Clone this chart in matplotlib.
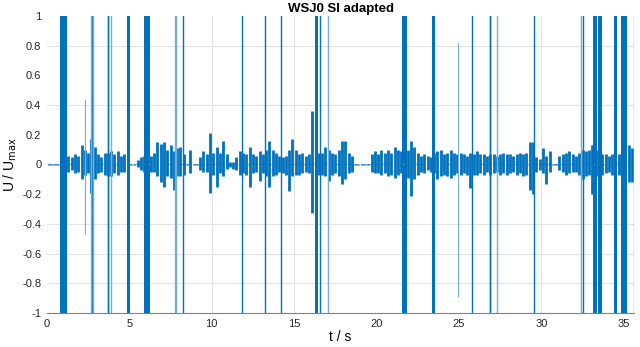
import numpy as np
import matplotlib.pyplot as plt

plt.rcParams['font.family'] = 'Liberation Sans'

env_hi = [0.004, 0.004, 0.004, 0.004, 0.05,
          0.05, 0.06, 0.05, 0.07, 0.06,
          0.13, 0.10, 0.08, 0.17, 0.12,
          0.07, 0.05, 0.08, 0.08, 0.09,
          0.07, 0.09, 0.06, 0.07, 0.07,
          0.004, 0.004, 0.03, 0.05, 0.06,
          0.15, 0.06, 0.08, 0.15, 0.14,
          0.15, 0.10, 0.13, 0.09, 0.11,
          0.12, 0.07, 0.004, 0.10, 0.004,
          0.004, 0.05, 0.09, 0.07, 0.21,
          0.08, 0.12, 0.08, 0.16, 0.07,
          0.02, 0.02, 0.05, 0.09, 0.08,
          0.07, 0.12, 0.07, 0.06, 0.09,
          0.07, 0.10, 0.16, 0.10, 0.08,
          0.06, 0.05, 0.06, 0.10, 0.17,
          0.10, 0.07, 0.08, 0.06, 0.07,
          0.36, 0.10, 0.08, 0.08, 0.12,
          0.10, 0.08, 0.07, 0.10, 0.16,
          0.16, 0.08, 0.06, 0.004, 0.004,
          0.004, 0.004, 0.004, 0.07, 0.09,
          0.07, 0.10, 0.08, 0.10, 0.08,
          0.12, 0.10, 0.09, 0.10, 0.10,
          0.16, 0.12, 0.08, 0.06, 0.07,
          0.06, 0.05, 0.08, 0.09, 0.10,
          0.07, 0.08, 0.10, 0.08, 0.07,
          0.08, 0.07, 0.06, 0.08, 0.07,
          0.09, 0.07, 0.07, 0.06, 0.07,
          0.07, 0.06, 0.07, 0.08, 0.07,
          0.07, 0.06, 0.07, 0.08, 0.07,
          0.08, 0.15, 0.15, 0.05, 0.04,
          0.11, 0.06, 0.09, 0.004, 0.004,
          0.06, 0.07, 0.08, 0.09, 0.07,
          0.06, 0.08, 0.10, 0.09, 0.10,
          0.13, 0.10, 0.08, 0.07, 0.07,
          0.06, 0.07, 0.08, 0.07, 0.09,
          0.09, 0.13, 0.11]
env_lo = [-0.004, -0.004, -0.004, -0.004, -0.04,
          -0.04, -0.05, -0.04, -0.06, -0.05,
          -0.10, -0.07, -0.06, -0.19, -0.10,
          -0.06, -0.05, -0.07, -0.08, -0.08,
          -0.06, -0.07, -0.05, -0.05, -0.06,
          -0.004, -0.004, -0.02, -0.04, -0.05,
          -0.06, -0.05, -0.05, -0.08, -0.12,
          -0.15, -0.08, -0.09, -0.17, -0.08,
          -0.08, -0.07, -0.004, -0.06, -0.004,
          -0.004, -0.04, -0.05, -0.05, -0.19,
          -0.07, -0.15, -0.06, -0.08, -0.03,
          -0.02, -0.03, -0.04, -0.07, -0.06,
          -0.07, -0.15, -0.06, -0.05, -0.11,
          -0.06, -0.08, -0.15, -0.08, -0.07,
          -0.05, -0.06, -0.07, -0.18, -0.08,
          -0.07, -0.07, -0.06, -0.05, -0.06,
          -0.33, -0.08, -0.07, -0.07, -0.08,
          -0.11, -0.07, -0.06, -0.08, -0.13,
          -0.10, -0.06, -0.05, -0.004, -0.004,
          -0.004, -0.004, -0.004, -0.05, -0.06,
          -0.06, -0.07, -0.06, -0.08, -0.07,
          -0.09, -0.07, -0.06, -0.08, -0.09,
          -0.21, -0.10, -0.07, -0.05, -0.06,
          -0.04, -0.05, -0.06, -0.10, -0.08,
          -0.07, -0.08, -0.09, -0.07, -0.06,
          -0.07, -0.06, -0.07, -0.16, -0.07,
          -0.07, -0.06, -0.07, -0.05, -0.07,
          -0.06, -0.05, -0.07, -0.06, -0.07,
          -0.06, -0.05, -0.07, -0.06, -0.08,
          -0.07, -0.17, -0.20, -0.05, -0.04,
          -0.06, -0.13, -0.05, -0.004, -0.004,
          -0.04, -0.05, -0.07, -0.06, -0.05,
          -0.05, -0.07, -0.10, -0.08, -0.07,
          -0.20, -0.08, -0.06, -0.07, -0.06,
          -0.05, -0.07, -0.08, -0.07, -0.07,
          -0.08, -0.12, -0.12]
t_win = 0.2

# Übersteuerte Abschnitte (volle Höhe)
band_start = [0.81, 4.86, 5.89, 16.27, 21.57, 23.37, 33.16, 33.46, 34.39, 34.85]
band_end   = [1.22, 5.06, 6.26, 16.47, 21.83, 23.55, 33.36, 33.66, 34.59, 35.18]
clip_dark  = [2.72, 3.68, 3.73, 8.24, 11.82, 13.22, 14.22, 16.57, 25.81, 26.86, 26.91, 29.55, 32.51]
clip_light = [2.66, 2.80, 3.91, 7.80, 7.86, 17.04, 27.30, 32.43, 35.60]

# einzelne hohe Spitzen: Zeit, min, max
spike_t  = [2.34, 24.96]
spike_lo = [-0.47, -0.89]
spike_hi = [0.44, 0.82]

grid_x = [10, 15, 30]
grid_y = [0.8, 0.4, -0.4, -0.6, -0.8]
y_ticks = [-1, -0.8, -0.6, -0.4, -0.2, 0, 0.2, 0.4, 0.6, 0.8, 1]
y_labels = ['-1', '-0.8', '-0.6', '-0.4', '-0.2', '0', '0.2', '0.4', '0.6', '0.8', '1']

blau = '#0072BD'
hellblau = '#72ADDC'

n = len(env_hi)
tc = np.arange(n) * t_win + t_win / 2

fig = plt.figure(figsize=(6.4, 3.47), dpi=100)
ax = fig.add_axes([0.0733, 0.098, 0.918, 0.856])

for gx in grid_x:
    ax.axvline(gx, color='#E3E3E3', lw=0.8, zorder=0)
for gy in grid_y:
    ax.axhline(gy, color='#E3E3E3', lw=0.8, zorder=0)

# Nulllinie (Stille) und Signal als Spitzen je Fenster
ax.plot([0, tc[-1]], [0, 0], color=hellblau, lw=0.8, ls=(0, (4, 2)))
ax.vlines(tc, env_lo, env_hi, color=blau, lw=2.0)
ax.vlines(spike_t, spike_lo, spike_hi, color=hellblau, lw=0.8)
for a, b in zip(band_start, band_end):
    ax.axvspan(a, b, color=blau, lw=0)
for x in clip_dark:
    ax.axvline(x, color=blau, lw=1.0)
for x in clip_light:
    ax.axvline(x, color=hellblau, lw=1.0)

ax.set_xlim(0, 35.65)
ax.set_ylim(-1, 1)
ax.set_xticks(np.arange(0, 36, 5))
ax.set_yticks(y_ticks)
ax.set_yticklabels(y_labels)
ax.set_xticks(grid_x, minor=True)
ax.set_yticks(grid_y, minor=True)
ax.tick_params(which='major', length=0, labelsize=8, colors='#262626', pad=4)
ax.tick_params(which='minor', length=3, direction='in', color='#555555',
               top=True, right=True)
for s in ['left', 'right', 'top']:
    ax.spines[s].set_visible(False)
ax.spines['bottom'].set_color('#808080')

ax.set_title('WSJ0 SI adapted', fontsize=9.5, fontweight='bold', pad=3)
ax.set_xlabel('t / s', fontsize=10, labelpad=1)
ax.set_ylabel(r'U / U$_{\mathrm{max}}$', fontsize=10, labelpad=2)

fig.savefig('out.png', dpi=100)
